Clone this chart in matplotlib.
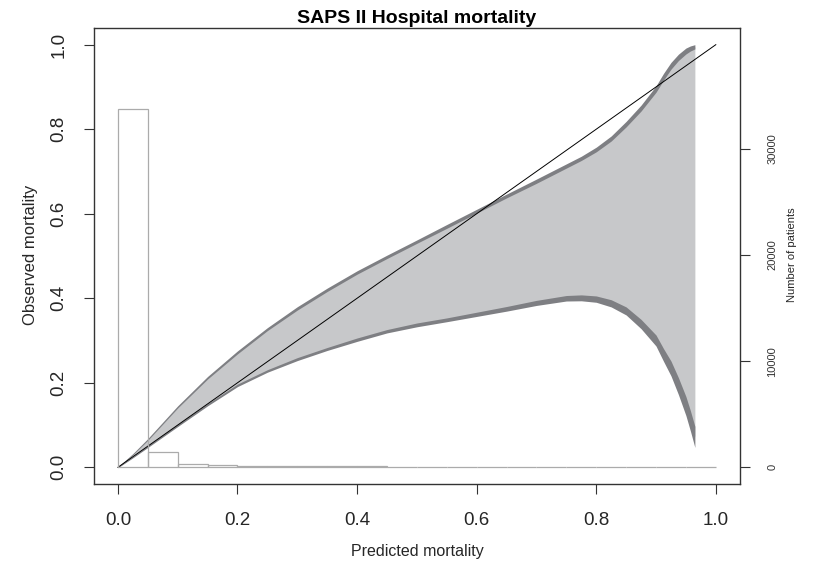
import numpy as np
import matplotlib
matplotlib.use("Agg")
import matplotlib.pyplot as plt

plt.rcParams["font.family"] = ["Liberation Sans", "DejaVu Sans"]

# ========= data =========
TITLE = "SAPS II Hospital mortality"
X_LABEL = "Predicted mortality"
Y_LABEL = "Observed mortality"
Y2_LABEL = "Number of patients"

# calibration band (centre of the dark edges) and edge thickness
band_x = [0, 0.025, 0.05, 0.1, 0.15, 0.2, 0.25, 0.3, 0.35, 0.4, 0.45, 0.5,
          0.55, 0.6, 0.65, 0.7, 0.75, 0.775, 0.8, 0.825, 0.85, 0.875, 0.9,
          0.9125, 0.925, 0.9375, 0.95, 0.9575, 0.965]
upper = [0, 0.031, 0.066, 0.143, 0.212, 0.272, 0.327, 0.376, 0.420, 0.461,
         0.498, 0.534, 0.570, 0.606, 0.642, 0.677, 0.713, 0.731, 0.752,
         0.778, 0.812, 0.850, 0.895, 0.924, 0.950, 0.970, 0.985, 0.991, 0.995]
lower = [0, 0.024, 0.049, 0.099, 0.148, 0.194, 0.228, 0.256, 0.280, 0.302,
         0.322, 0.337, 0.349, 0.362, 0.375, 0.389, 0.400, 0.401, 0.398,
         0.388, 0.370, 0.339, 0.300, 0.266, 0.234, 0.192, 0.145, 0.110, 0.072]
upper_w = [0.002, 0.003, 0.004, 0.005, 0.006, 0.007, 0.007, 0.008, 0.008,
           0.008, 0.008, 0.008, 0.009, 0.009, 0.009, 0.010, 0.010, 0.010,
           0.011, 0.012, 0.013, 0.014, 0.015, 0.016, 0.016, 0.015, 0.014,
           0.012, 0.010]
lower_w = [0.002, 0.003, 0.004, 0.005, 0.005, 0.006, 0.006, 0.007, 0.007,
           0.008, 0.008, 0.009, 0.009, 0.010, 0.011, 0.012, 0.013, 0.014,
           0.015, 0.017, 0.019, 0.022, 0.026, 0.030, 0.035, 0.040, 0.045,
           0.048, 0.050]

# histogram of predicted mortality (number of patients per 0.05 bin)
hist_left = [0.00, 0.05, 0.10, 0.15, 0.20, 0.25, 0.30, 0.35, 0.40, 0.45,
             0.50, 0.55, 0.60, 0.65, 0.70, 0.75, 0.80, 0.85, 0.90, 0.95]
hist_count = [33760, 1420, 330, 190, 150, 100, 100, 100, 100, 10,
              9, 8, 7, 6, 5, 4, 3, 3, 2, 2]

x_ticks = [0.0, 0.2, 0.4, 0.6, 0.8, 1.0]
y_ticks = [0.0, 0.2, 0.4, 0.6, 0.8, 1.0]
y2_ticks = [0, 10000, 20000, 30000]
COUNTS_PER_UNIT = 39811   # right axis: patients per 1.0 of the left axis
# ============================================

LIGHT = "#c7c8ca"
DARK = "#7e7f83"
TXT = "#262626"


def main():
    fig = plt.figure(figsize=(8.21, 5.67), dpi=100)
    ax = fig.add_axes([0.1145, 0.146, 0.7865, 0.805])

    bx = np.array(band_x)
    up = np.array(upper)
    lo = np.array(lower)
    uw = np.array(upper_w) / 2
    lw = np.array(lower_w) / 2

    ax.fill_between(bx, lo, up, color=LIGHT, lw=0, zorder=1)
    ax.fill_between(bx, up - uw, up + uw, color=DARK, lw=0, zorder=2)
    ax.fill_between(bx, lo - lw, lo + lw, color=DARK, lw=0, zorder=2)
    ax.plot([0, 1], [0, 1], color="black", lw=0.7, zorder=3)

    ax.set_xlim(-0.04, 1.04)
    ax.set_ylim(-0.04, 1.04)
    ax.set_xticks(x_ticks)
    ax.set_xticklabels([f"{v:.1f}" for v in x_ticks])
    ax.set_yticks(y_ticks)
    ax.set_yticklabels([f"{v:.1f}" for v in y_ticks], rotation=90, va="center")
    ax.tick_params(direction="out", length=7, width=0.8, color="#333333",
                   labelsize=13.5, labelcolor=TXT)
    ax.tick_params(axis="x", pad=13)
    ax.tick_params(axis="y", pad=12)
    for s in ax.spines.values():
        s.set_color("#333333")
        s.set_linewidth(1.0)

    ax2 = ax.twinx()
    ax2.bar(hist_left, hist_count, width=0.05, align="edge", fill=False,
            edgecolor="#ababab", linewidth=0.9)
    ax2.set_ylim(-0.04 * COUNTS_PER_UNIT, 1.04 * COUNTS_PER_UNIT)
    ax2.set_yticks(y2_ticks)
    ax2.set_yticklabels([str(v) for v in y2_ticks], rotation=90, va="center")
    ax2.tick_params(direction="out", length=7, width=0.8, color="#333333",
                    labelsize=8, labelcolor="#333333", pad=13)
    for s in ax2.spines.values():
        s.set_visible(False)

    fig.text(0.508, 0.968, TITLE, ha="center", va="center",
             fontsize=14, fontweight="bold", color="black")
    fig.text(0.508, 0.028, X_LABEL, ha="center", va="center",
             fontsize=11.5, color=TXT)
    fig.text(0.037, 0.55, Y_LABEL, ha="center", va="center", rotation=90,
             fontsize=12, color=TXT)
    fig.text(0.965, 0.55, Y2_LABEL, ha="center", va="center", rotation=90,
             fontsize=8, color=TXT)

    fig.savefig("out.png", dpi=100)


if __name__ == "__main__":
    main()
